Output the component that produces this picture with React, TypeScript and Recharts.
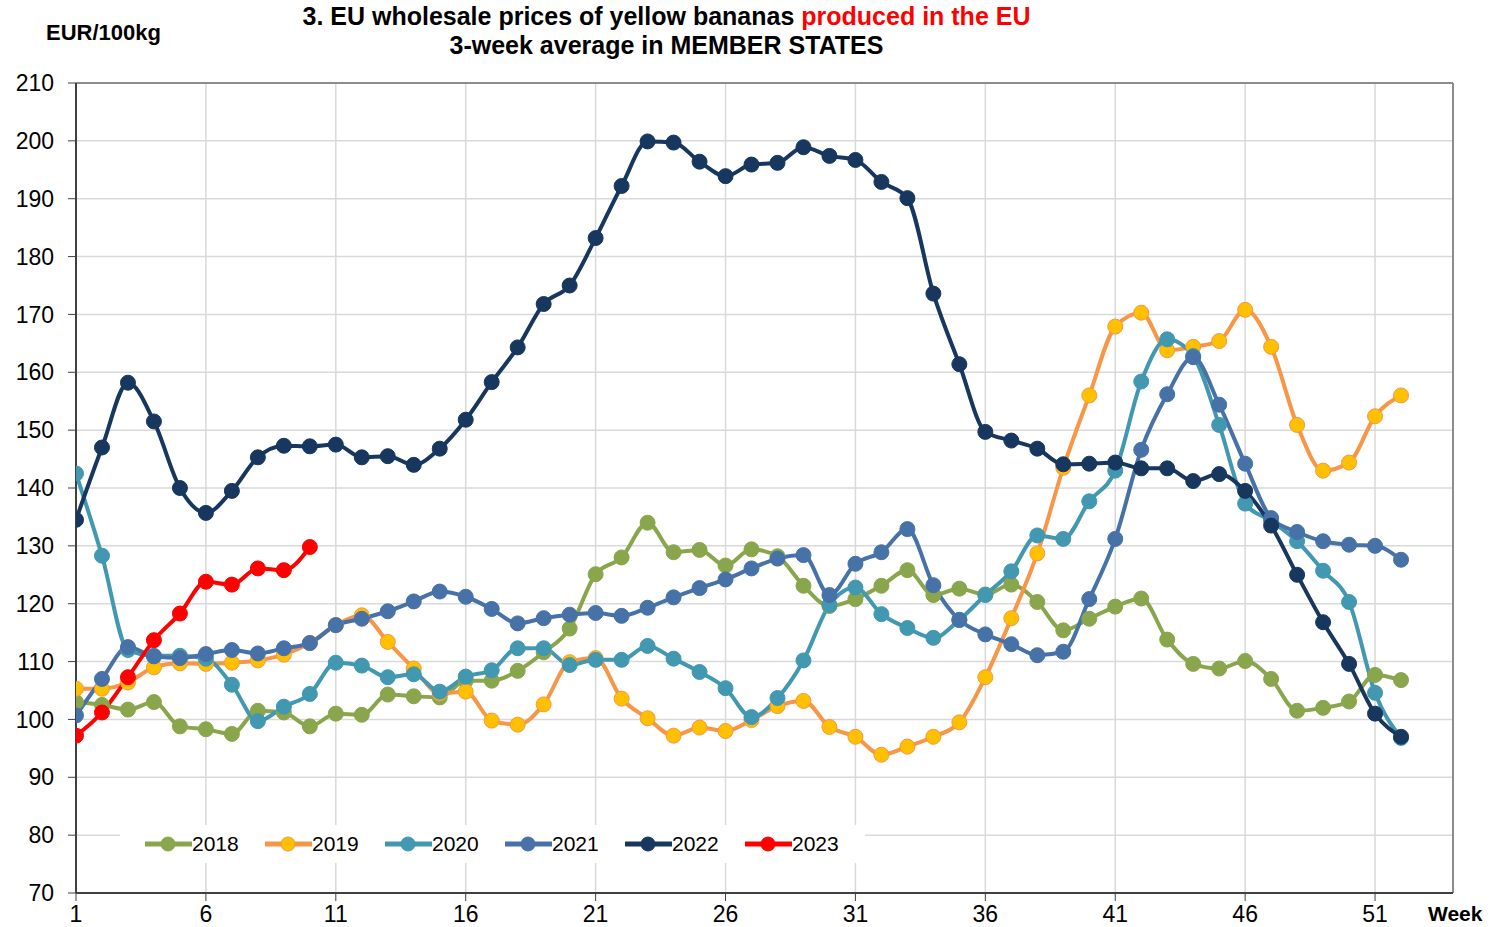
import { LineChart, Line, XAxis, YAxis, CartesianGrid, Legend, ReferenceLine } from "recharts";

const weeks = Array.from({ length: 52 }, (_, i) => i + 1);

const y2018 = [
  103, 102.5, 101.7, 103, 98.8, 98.3, 97.5, 101.5, 101.2, 98.8,
  101, 100.8, 104.3, 104, 103.8, 106.7, 106.7, 108.4, 111.6, 115.7,
  125.1, 128, 134, 128.9, 129.3, 126.6, 129.4, 128.2, 123.1, 119.6,
  120.8, 123.1, 125.8, 121.5, 122.6, 121.6, 123.3, 120.3, 115.4, 117.4,
  119.5, 120.9, 113.8, 109.6, 108.8, 110.1, 107, 101.5, 102, 103.1,
  107.7, 106.8,
];
const y2019 = [
  105.3, 105.3, 106.4, 109, 109.7, 109.6, 109.8, 110.2, 111.2, 113.2,
  116.3, 118, 113.4, 108.8, 104.5, 104.8, 99.8, 99.1, 102.6, 109.9,
  110.6, 103.6, 100.2, 97.2, 98.6, 98, 99.9, 102.3, 103.2, 98.7,
  97, 93.9, 95.3, 97, 99.5, 107.3, 117.5, 128.7, 143.5, 156,
  167.9, 170.3, 163.8, 164.4, 165.4, 170.8, 164.4, 150.9, 143, 144.4,
  152.4, 156,
];
const y2020 = [
  142.5, 128.3, 112, 111, 111, 110.5, 106, 99.7, 102.2, 104.4,
  109.8, 109.3, 107.3, 107.8, 104.8, 107.4, 108.5, 112.3, 112.3, 109.4,
  110.3, 110.3, 112.7, 110.5, 108.2, 105.4, 100.4, 103.7, 110.2, 119.8,
  122.8, 118.2, 115.8, 114.1, 117.2, 121.5, 125.6, 131.8, 131.2, 137.7,
  143, 158.4, 165.7, 162.8, 150.9, 137.3, 134.3, 130.8, 125.7, 120.3,
  104.6, 96.8,
];
const y2021 = [
  100.7, 107, 112.5, 110.9, 110.6, 111.3, 112, 111.4, 112.3, 113.2,
  116.3, 117.4, 118.7, 120.4, 122.1, 121.2, 119.1, 116.6, 117.5, 118.1,
  118.4, 117.9, 119.3, 121.1, 122.7, 124.2, 126.1, 127.8, 128.4, 121.5,
  126.9, 128.9, 132.9, 123.2, 117.2, 114.7, 113, 111.1, 111.7, 120.8,
  131.2, 146.6, 156.2, 162.6, 154.4, 144.2, 134.8, 132.4, 130.8, 130.2,
  130, 127.6,
];
const y2022 = [
  134.5, 147, 158.2, 151.5, 140, 135.7, 139.5, 145.3, 147.3, 147.2,
  147.5, 145.3, 145.5, 144, 146.8, 151.8, 158.3, 164.3, 171.8, 175,
  183.2, 192.2, 199.9, 199.7, 196.4, 193.9, 195.9, 196.2, 198.9, 197.4,
  196.7, 192.9, 190.1, 173.6, 161.4, 149.7, 148.2, 146.8, 144.1, 144.2,
  144.4, 143.4, 143.4, 141.2, 142.4, 139.5, 133.5, 125, 116.8, 109.6,
  101, 97,
];
const y2023 = [97.2, 101.2, 107.3, 113.7, 118.3, 123.8, 123.3, 126.1, 125.8, 129.8];

const yTicks = [70, 80, 90, 100, 110, 120, 130, 140, 150, 160, 170, 180, 190, 200, 210];
const xTicks = [1, 6, 11, 16, 21, 26, 31, 36, 41, 46, 51];

const SERIES = [
  { key: "2018", values: y2018, color: "#8AA64C", dotFill: "#8AA64C" },
  { key: "2019", values: y2019, color: "#F79646", dotFill: "#FFC000" },
  { key: "2020", values: y2020, color: "#4198B0", dotFill: "#4198B0" },
  { key: "2021", values: y2021, color: "#4672A8", dotFill: "#4672A8" },
  { key: "2022", values: y2022, color: "#17375E", dotFill: "#17375E" },
  { key: "2023", values: y2023, color: "#FF0000", dotFill: "#FF0000" },
];

const data = weeks.map((week, i) => {
  const row: Record<string, number | null> = { week };
  SERIES.forEach((s) => {
    row[s.key] = i < s.values.length ? s.values[i] : null;
  });
  return row;
});

const FONT = "'Liberation Sans', Arial, sans-serif";

const renderLegend = (props: any) => {
  const payload = props.payload || [];
  return (
    <div style={{ display: "flex", paddingLeft: 25, paddingTop: 8, fontFamily: FONT, fontSize: 21 }}>
      {payload.map((entry: any) => {
        const s = SERIES.find((x) => x.key === entry.value);
        return (
          <div key={entry.value} style={{ display: "flex", alignItems: "center", width: 120 }}>
            <svg width={47} height={20}>
              <line x1={0} y1={10} x2={47} y2={10} stroke={entry.color} strokeWidth={5} />
              <circle cx={23} cy={10} r={7} fill={s ? s.dotFill : entry.color} stroke={entry.color} strokeWidth={1} />
            </svg>
            <span style={{ color: "#000", lineHeight: "21px" }}>{entry.value}</span>
          </div>
        );
      })}
    </div>
  );
};

export default function App() {
  return (
    <div style={{ position: "absolute", left: 0, top: 0, width: 1497, height: 927, background: "#fff", fontFamily: FONT }}>
      <div style={{ position: "absolute", left: 0, top: 2, width: 1333, textAlign: "center", fontSize: 25, fontWeight: "bold", lineHeight: "29px" }}>
        3. EU wholesale prices of yellow bananas <span style={{ color: "#FF0000" }}>produced in the EU</span>
      </div>
      <div style={{ position: "absolute", left: 0, top: 31, width: 1333, textAlign: "center", fontSize: 25, fontWeight: "bold", lineHeight: "29px" }}>
        3-week average in MEMBER STATES
      </div>
      <div style={{ position: "absolute", left: 46, top: 22, fontSize: 22, fontWeight: "bold", lineHeight: "22px" }}>EUR/100kg</div>
      <div style={{ position: "absolute", left: 1428, top: 903, fontSize: 21, fontWeight: "bold", lineHeight: "21px" }}>Week</div>
      <LineChart width={1497} height={927} data={data} margin={{ top: 83, right: 44, left: 0, bottom: 0 }}>
        <CartesianGrid stroke="#D9D9D9" strokeWidth={1.5} />
        <XAxis
          dataKey="week"
          type="number"
          domain={[1, 54]}
          ticks={xTicks}
          height={34}
          tickSize={8}
          tickMargin={5}
          tick={{ fill: "#000", fontSize: 23, fontFamily: FONT }}
          tickLine={{ stroke: "#404040" }}
          axisLine={{ stroke: "#404040", strokeWidth: 2 }}
          allowDataOverflow
        />
        <YAxis
          type="number"
          domain={[70, 210]}
          ticks={yTicks}
          width={76}
          tickSize={8}
          tickMargin={14}
          tick={{ fill: "#000", fontSize: 23, fontFamily: FONT }}
          tickLine={{ stroke: "#404040" }}
          axisLine={{ stroke: "#404040", strokeWidth: 2 }}
          interval={0}
        />
        <ReferenceLine y={210} stroke="#8C8C8C" strokeWidth={2} />
        <ReferenceLine x={54} stroke="#8C8C8C" strokeWidth={2} />
        <Legend
          layout="horizontal"
          verticalAlign="middle"
          align="center"
          content={renderLegend}
          wrapperStyle={{ left: 120, top: 825, width: 745, height: 38, background: "#fff" }}
        />
        {SERIES.map((s) => (
          <Line
            key={s.key}
            dataKey={s.key}
            name={s.key}
            type="monotone"
            stroke={s.color}
            strokeWidth={4}
            dot={{ r: 7.5, fill: s.dotFill, stroke: s.color, strokeWidth: 1 }}
            activeDot={false}
            connectNulls={false}
            isAnimationActive={false}
          />
        ))}
      </LineChart>
    </div>
  );
}
